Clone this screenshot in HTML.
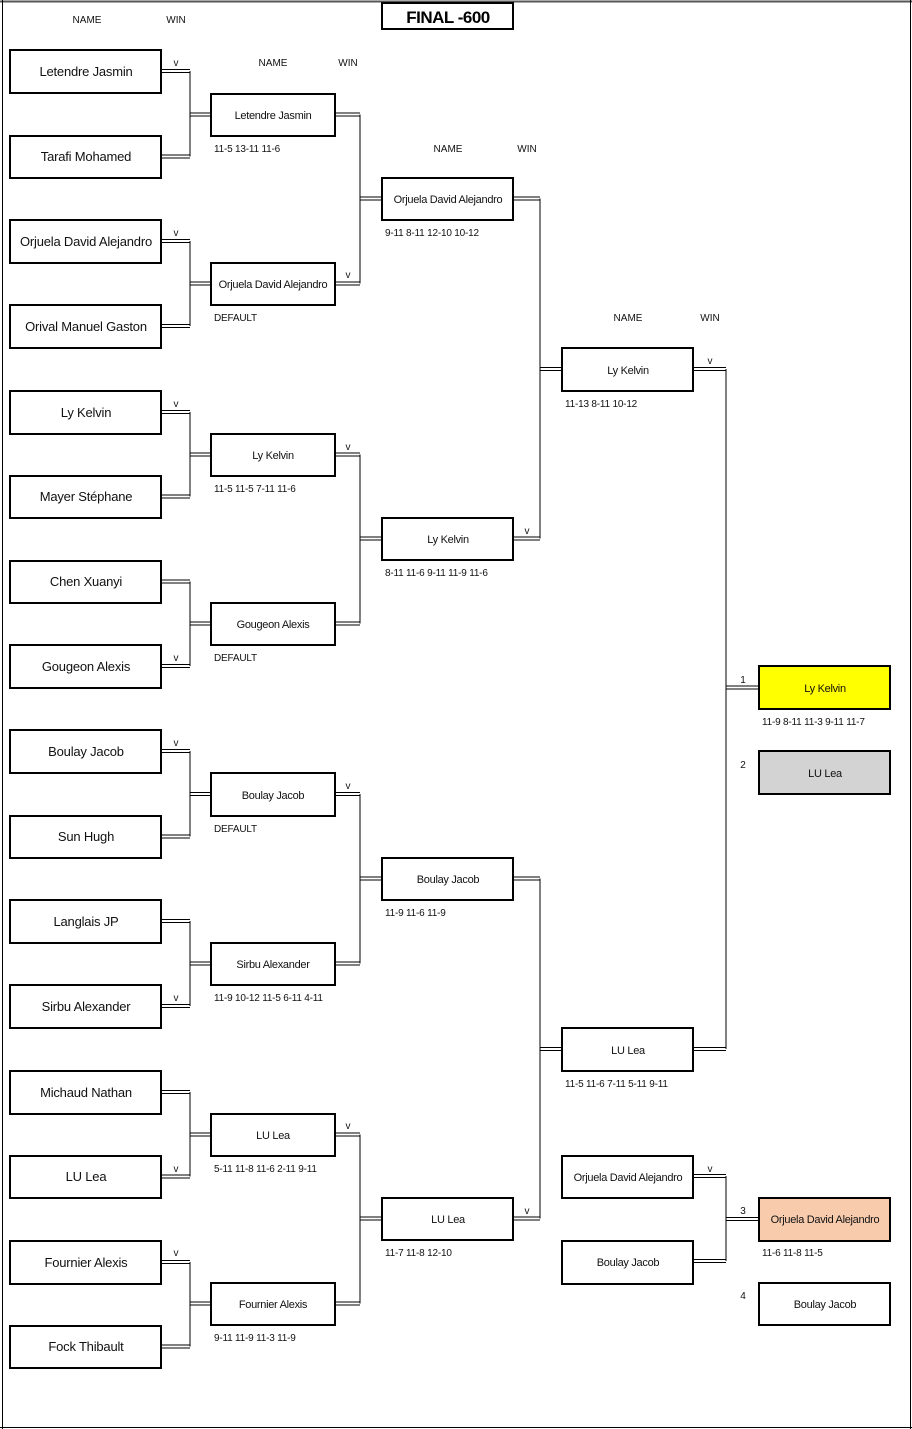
<!DOCTYPE html>
<html><head><meta charset="utf-8"><style>
html,body{margin:0;padding:0;background:#fff;width:912px;height:1429px;overflow:hidden}
svg{display:block;font-family:"Liberation Sans",sans-serif}
.b{fill:#fff;stroke:#000;stroke-width:2}
.l{stroke:#000;stroke-width:1;fill:none;shape-rendering:crispEdges}
.n1{font-size:13px;text-anchor:middle;fill:#111;letter-spacing:-0.2px}
.n2{font-size:11px;text-anchor:middle;fill:#111;letter-spacing:-0.3px}
.s{font-size:10px;fill:#111;letter-spacing:-0.2px}
.h{font-size:10px;fill:#111;text-anchor:middle}
</style></head><body>
<svg width="912" height="1429" viewBox="0 0 912 1429">
<line x1="0" y1="1.5" x2="912" y2="1.5" stroke="#555" stroke-width="2"/>
<line x1="2.5" y1="0" x2="2.5" y2="1429" stroke="#000" stroke-width="1"/>
<line x1="0" y1="1427.5" x2="912" y2="1427.5" stroke="#000" stroke-width="1"/>
<line x1="910.5" y1="0" x2="910.5" y2="1429" stroke="#000" stroke-width="1"/>
<rect x="382" y="3" width="131" height="26" class="b"/>
<text x="448" y="23" font-size="17" font-weight="bold" text-anchor="middle" letter-spacing="-0.5">FINAL -600</text>
<text class="h" x="87" y="23">NAME</text><text class="h" x="176" y="23">WIN</text>
<text class="h" x="273" y="66">NAME</text><text class="h" x="348" y="66">WIN</text>
<text class="h" x="448" y="152">NAME</text><text class="h" x="527" y="152">WIN</text>
<text class="h" x="628" y="321">NAME</text><text class="h" x="710" y="321">WIN</text>

<g class="l">
<path d="M161 69.5H190M161 72.5H190M161 155H190M161 158H190M190 71V156.5M190 113H210M190 116H210"/>
<path d="M161 239.5H190M161 242.5H190M161 324.5H190M161 327.5H190M190 241V326M190 282H210M190 285H210"/>
<path d="M161 410.5H190M161 413.5H190M161 495H190M161 498H190M190 412V496.5M190 453H210M190 456H210"/>
<path d="M161 580H190M161 583H190M161 664.5H190M161 667.5H190M190 581.5V666M190 622H210M190 625H210"/>
<path d="M161 749.5H190M161 752.5H190M161 835H190M161 838H190M190 751V836.5M190 792.5H210M190 795.5H210"/>
<path d="M161 919.5H190M161 922.5H190M161 1004.5H190M161 1007.5H190M190 921V1006M190 962H210M190 965H210"/>
<path d="M161 1090.5H190M161 1093.5H190M161 1175H190M161 1178H190M190 1092V1176.5M190 1133H210M190 1136H210"/>
<path d="M161 1260.5H190M161 1263.5H190M161 1345H190M161 1348H190M190 1262V1346.5M190 1302H210M190 1305H210"/>
<path d="M335 113H360M335 116H360M335 282H360M335 285H360M360 114.5V283.5M360 197H381M360 200H381"/>
<path d="M335 453H360M335 456H360M335 622H360M335 625H360M360 454.5V623.5M360 537H381M360 540H381"/>
<path d="M335 792.5H360M335 795.5H360M335 962H360M335 965H360M360 794V963.5M360 877H381M360 880H381"/>
<path d="M335 1133H360M335 1136H360M335 1302H360M335 1305H360M360 1134.5V1303.5M360 1217H381M360 1220H381"/>
<path d="M513 197H540M513 200H540M513 537H540M513 540H540M540 198.5V538.5M540 367.5H561M540 370.5H561"/>
<path d="M513 877H540M513 880H540M513 1217H540M513 1220H540M540 878.5V1218.5M540 1047.5H561M540 1050.5H561"/>
<path d="M693 367.5H726M693 370.5H726M693 1047.5H726M693 1050.5H726M726 369V1049M726 686H758M726 689H758"/>
<path d="M693 1174.5H726M693 1177.5H726M693 1259.5H726M693 1262.5H726M726 1176V1261M726 1217.5H758M726 1220.5H758"/>
</g>

<g>
<rect class="b" x="10" y="50" width="151" height="43"/><text class="n1" x="86" y="76">Letendre Jasmin</text>
<rect class="b" x="10" y="136" width="151" height="42"/><text class="n1" x="86" y="161">Tarafi  Mohamed</text>
<rect class="b" x="10" y="220" width="151" height="43"/><text class="n1" x="86" y="246">Orjuela David Alejandro</text>
<rect class="b" x="10" y="305" width="151" height="43"/><text class="n1" x="86" y="331">Orival Manuel Gaston</text>
<rect class="b" x="10" y="391" width="151" height="43"/><text class="n1" x="86" y="417">Ly Kelvin</text>
<rect class="b" x="10" y="476" width="151" height="42"/><text class="n1" x="86" y="501">Mayer Stéphane</text>
<rect class="b" x="10" y="561" width="151" height="42"/><text class="n1" x="86" y="586">Chen Xuanyi</text>
<rect class="b" x="10" y="645" width="151" height="43"/><text class="n1" x="86" y="671">Gougeon Alexis</text>
<rect class="b" x="10" y="730" width="151" height="43"/><text class="n1" x="86" y="756">Boulay Jacob</text>
<rect class="b" x="10" y="816" width="151" height="42"/><text class="n1" x="86" y="841">Sun Hugh</text>
<rect class="b" x="10" y="900" width="151" height="43"/><text class="n1" x="86" y="926">Langlais JP</text>
<rect class="b" x="10" y="985" width="151" height="43"/><text class="n1" x="86" y="1011">Sirbu Alexander</text>
<rect class="b" x="10" y="1071" width="151" height="43"/><text class="n1" x="86" y="1097">Michaud Nathan</text>
<rect class="b" x="10" y="1156" width="151" height="42"/><text class="n1" x="86" y="1181">LU Lea</text>
<rect class="b" x="10" y="1241" width="151" height="43"/><text class="n1" x="86" y="1267">Fournier Alexis</text>
<rect class="b" x="10" y="1326" width="151" height="42"/><text class="n1" x="86" y="1351">Fock Thibault</text>
</g>
<g class="h">
<text x="176" y="66">v</text><text x="176" y="236">v</text><text x="176" y="407">v</text><text x="176" y="661">v</text>
<text x="176" y="746">v</text><text x="176" y="1001">v</text><text x="176" y="1172">v</text><text x="176" y="1256">v</text>
<text x="348" y="278">v</text><text x="348" y="450">v</text><text x="348" y="789">v</text><text x="348" y="1129">v</text>
<text x="527" y="534">v</text><text x="527" y="1214">v</text>
<text x="710" y="364">v</text><text x="710" y="1172">v</text>
<text x="743" y="683">1</text><text x="743" y="768">2</text><text x="743" y="1214">3</text><text x="743" y="1299">4</text>
</g>

<rect class="b" x="211" y="94" width="124" height="42"/><text class="n2" x="273" y="119">Letendre Jasmin</text><text class="s" x="214" y="152">11-5 13-11 11-6</text>
<rect class="b" x="211" y="263" width="124" height="42"/><text class="n2" x="273" y="288">Orjuela David Alejandro</text><text class="s" x="214" y="321">DEFAULT</text>
<rect class="b" x="211" y="434" width="124" height="42"/><text class="n2" x="273" y="459">Ly Kelvin</text><text class="s" x="214" y="492">11-5 11-5 7-11 11-6</text>
<rect class="b" x="211" y="603" width="124" height="42"/><text class="n2" x="273" y="628">Gougeon Alexis</text><text class="s" x="214" y="661">DEFAULT</text>
<rect class="b" x="211" y="773" width="124" height="43"/><text class="n2" x="273" y="799">Boulay Jacob</text><text class="s" x="214" y="832">DEFAULT</text>
<rect class="b" x="211" y="943" width="124" height="42"/><text class="n2" x="273" y="968">Sirbu Alexander</text><text class="s" x="214" y="1001">11-9 10-12 11-5 6-11 4-11</text>
<rect class="b" x="211" y="1114" width="124" height="42"/><text class="n2" x="273" y="1139">LU Lea</text><text class="s" x="214" y="1172">5-11 11-8 11-6 2-11 9-11</text>
<rect class="b" x="211" y="1283" width="124" height="42"/><text class="n2" x="273" y="1308">Fournier Alexis</text><text class="s" x="214" y="1341">9-11 11-9 11-3 11-9</text>

<rect class="b" x="382" y="178" width="131" height="42"/><text class="n2" x="448" y="203">Orjuela David Alejandro</text><text class="s" x="385" y="236">9-11 8-11 12-10 10-12</text>
<rect class="b" x="382" y="518" width="131" height="42"/><text class="n2" x="448" y="543">Ly Kelvin</text><text class="s" x="385" y="576">8-11 11-6 9-11 11-9 11-6</text>
<rect class="b" x="382" y="858" width="131" height="42"/><text class="n2" x="448" y="883">Boulay Jacob</text><text class="s" x="385" y="916">11-9 11-6 11-9</text>
<rect class="b" x="382" y="1198" width="131" height="42"/><text class="n2" x="448" y="1223">LU Lea</text><text class="s" x="385" y="1256">11-7 11-8 12-10</text>

<rect class="b" x="562" y="348" width="131" height="43"/><text class="n2" x="628" y="374">Ly Kelvin</text><text class="s" x="565" y="407">11-13 8-11 10-12</text>
<rect class="b" x="562" y="1028" width="131" height="43"/><text class="n2" x="628" y="1054">LU Lea</text><text class="s" x="565" y="1087">11-5 11-6 7-11 5-11 9-11</text>
<rect class="b" x="562" y="1156" width="131" height="42"/><text class="n2" x="628" y="1181">Orjuela David Alejandro</text>
<rect class="b" x="562" y="1241" width="131" height="43"/><text class="n2" x="628" y="1266">Boulay Jacob</text>

<rect class="b" x="759" y="666" width="131" height="43" style="fill:#ffff00"/><text class="n2" x="825" y="692">Ly Kelvin</text><text class="s" x="762" y="725">11-9 8-11 11-3 9-11 11-7</text>
<rect class="b" x="759" y="751" width="131" height="43" style="fill:#d3d3d3"/><text class="n2" x="825" y="777">LU Lea</text>
<rect class="b" x="759" y="1198" width="131" height="43" style="fill:#f8cbad"/><text class="n2" x="825" y="1223">Orjuela David Alejandro</text><text class="s" x="762" y="1256">11-6 11-8 11-5</text>
<rect class="b" x="759" y="1283" width="131" height="42"/><text class="n2" x="825" y="1308">Boulay Jacob</text>
</svg>
</body></html>
